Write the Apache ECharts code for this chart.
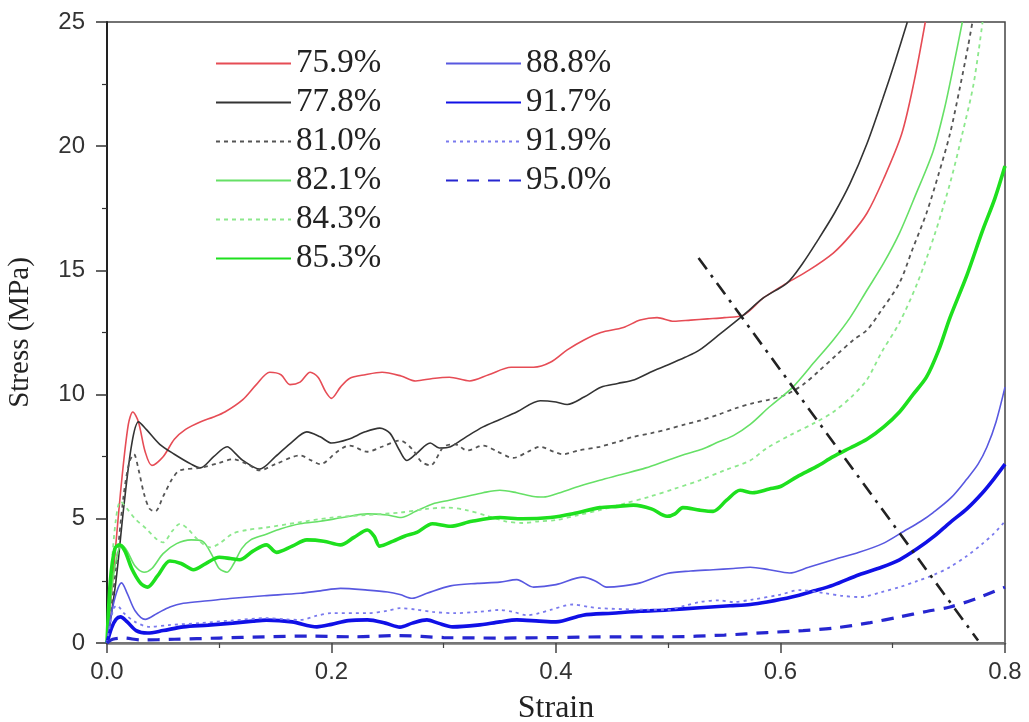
<!DOCTYPE html>
<html>
<head>
<meta charset="utf-8">
<script src="https://cdn.jsdelivr.net/npm/echarts@6/dist/echarts.min.js"></script>
<style>
  html, body { margin: 0; padding: 0; background: #fff; }
  #main { width: 1029px; height: 722px; }
</style>
</head>
<body>
<div id="main"></div>
<script>
// stress-strain curves, [strain, stress (MPa)]
var xTicks = [0, 0.2, 0.4, 0.6, 0.8];
var yTicks = [0, 5, 10, 15, 20, 25];

var s759 = [[0,0],[0.006,3],[0.013,6.5],[0.019,8.8],[0.023,9.3],[0.028,8.9],[0.034,7.7],[0.040,7.15],[0.050,7.5],[0.060,8.2],[0.070,8.6],[0.083,8.9],[0.095,9.1],[0.105,9.3],[0.121,9.8],[0.133,10.4],[0.145,10.9],[0.155,10.8],[0.163,10.4],[0.172,10.5],[0.181,10.9],[0.188,10.7],[0.195,10.1],[0.200,9.85],[0.208,10.3],[0.216,10.65],[0.230,10.8],[0.245,10.9],[0.262,10.75],[0.275,10.55],[0.290,10.65],[0.305,10.7],[0.323,10.55],[0.340,10.8],[0.360,11.1],[0.380,11.1],[0.395,11.3],[0.410,11.8],[0.425,12.2],[0.440,12.5],[0.460,12.7],[0.475,13.0],[0.490,13.1],[0.505,12.95],[0.520,13.0],[0.535,13.05],[0.550,13.1],[0.567,13.2],[0.585,13.9],[0.606,14.5],[0.625,15.0],[0.647,15.7],[0.662,16.4],[0.677,17.3],[0.692,18.7],[0.708,20.5],[0.719,22.6],[0.729,25]];
var s778 = [[0,0],[0.008,2.5],[0.015,5.5],[0.022,8.0],[0.028,8.9],[0.035,8.6],[0.047,8.0],[0.060,7.6],[0.075,7.2],[0.083,7.05],[0.095,7.5],[0.107,7.9],[0.115,7.6],[0.121,7.35],[0.136,7.0],[0.150,7.5],[0.165,8.1],[0.178,8.5],[0.190,8.3],[0.200,8.05],[0.215,8.2],[0.230,8.5],[0.243,8.65],[0.252,8.45],[0.260,7.8],[0.267,7.35],[0.275,7.6],[0.288,8.05],[0.296,7.85],[0.306,7.9],[0.320,8.3],[0.335,8.7],[0.350,9.0],[0.365,9.3],[0.386,9.75],[0.400,9.7],[0.410,9.6],[0.425,9.9],[0.440,10.3],[0.455,10.45],[0.470,10.6],[0.484,10.9],[0.500,11.2],[0.515,11.5],[0.528,11.8],[0.545,12.4],[0.567,13.2],[0.585,13.9],[0.606,14.5],[0.620,15.3],[0.633,16.2],[0.648,17.3],[0.662,18.5],[0.677,20.1],[0.691,21.9],[0.702,23.4],[0.713,25]];
var s810 = [[0,0],[0.008,3],[0.015,6.0],[0.020,7.3],[0.024,7.6],[0.028,7.0],[0.033,6.0],[0.038,5.4],[0.043,5.3],[0.050,5.9],[0.058,6.6],[0.065,6.95],[0.083,7.05],[0.100,7.25],[0.112,7.4],[0.125,7.2],[0.136,6.95],[0.150,7.2],[0.172,7.55],[0.182,7.35],[0.190,7.2],[0.205,7.7],[0.216,7.95],[0.232,7.7],[0.245,7.9],[0.261,8.15],[0.272,7.8],[0.280,7.3],[0.288,7.15],[0.300,7.9],[0.310,8.0],[0.321,7.75],[0.335,7.95],[0.348,7.7],[0.362,7.45],[0.375,7.7],[0.386,7.9],[0.398,7.7],[0.406,7.6],[0.420,7.75],[0.439,7.9],[0.455,8.1],[0.469,8.3],[0.485,8.45],[0.499,8.6],[0.515,8.8],[0.528,8.95],[0.545,9.2],[0.560,9.45],[0.575,9.65],[0.590,9.8],[0.605,10.0],[0.620,10.4],[0.633,10.9],[0.650,11.6],[0.665,12.2],[0.677,12.6],[0.690,13.4],[0.706,14.5],[0.718,15.9],[0.730,17.3],[0.741,18.9],[0.751,20.5],[0.760,22.4],[0.767,24.0],[0.771,25]];
var s821 = [[0,0],[0.005,2.5],[0.010,3.7],[0.013,3.95],[0.018,3.7],[0.025,3.1],[0.033,2.85],[0.040,3.0],[0.050,3.6],[0.062,4.0],[0.075,4.15],[0.085,4.1],[0.094,3.5],[0.100,3.0],[0.107,2.85],[0.113,3.2],[0.120,3.8],[0.128,4.15],[0.140,4.35],[0.155,4.6],[0.172,4.8],[0.190,4.9],[0.210,5.05],[0.232,5.2],[0.250,5.15],[0.262,5.05],[0.275,5.3],[0.290,5.6],[0.305,5.75],[0.320,5.9],[0.335,6.05],[0.350,6.15],[0.365,6.05],[0.380,5.9],[0.389,5.88],[0.400,6.0],[0.420,6.3],[0.439,6.55],[0.460,6.8],[0.480,7.05],[0.499,7.35],[0.515,7.6],[0.530,7.8],[0.545,8.1],[0.558,8.35],[0.573,8.8],[0.590,9.5],[0.611,10.3],[0.630,11.3],[0.647,12.2],[0.662,13.1],[0.677,14.2],[0.692,15.3],[0.706,16.5],[0.720,18.0],[0.736,19.8],[0.746,21.5],[0.754,23.2],[0.762,25]];
var s843 = [[0,0],[0.004,3],[0.008,5.0],[0.012,5.7],[0.018,5.4],[0.025,5.0],[0.035,4.6],[0.045,4.15],[0.050,4.05],[0.058,4.5],[0.065,4.8],[0.072,4.6],[0.080,4.2],[0.092,3.85],[0.100,4.0],[0.112,4.4],[0.125,4.55],[0.142,4.65],[0.170,4.85],[0.200,5.05],[0.230,5.15],[0.261,5.25],[0.285,5.4],[0.303,5.45],[0.320,5.35],[0.340,5.1],[0.355,4.9],[0.370,4.83],[0.385,4.9],[0.400,4.95],[0.420,5.15],[0.439,5.35],[0.460,5.6],[0.484,5.9],[0.505,6.2],[0.528,6.55],[0.550,6.95],[0.573,7.35],[0.588,7.85],[0.610,8.4],[0.630,8.85],[0.647,9.3],[0.663,9.9],[0.677,10.6],[0.690,11.7],[0.706,12.9],[0.722,14.5],[0.737,16.4],[0.751,18.5],[0.762,20.5],[0.772,22.5],[0.780,25]];
var s853 = [[0,0],[0.003,2.5],[0.007,3.8],[0.011,3.95],[0.016,3.7],[0.022,3.0],[0.030,2.4],[0.036,2.25],[0.045,2.7],[0.056,3.3],[0.066,3.2],[0.077,2.95],[0.088,3.2],[0.100,3.45],[0.110,3.4],[0.118,3.35],[0.130,3.7],[0.142,3.95],[0.151,3.65],[0.165,3.9],[0.178,4.15],[0.193,4.1],[0.208,3.95],[0.220,4.25],[0.232,4.55],[0.238,4.3],[0.243,3.9],[0.255,4.1],[0.265,4.3],[0.276,4.45],[0.290,4.8],[0.306,4.7],[0.325,4.9],[0.350,5.05],[0.370,5.0],[0.395,5.05],[0.415,5.2],[0.439,5.45],[0.455,5.5],[0.469,5.55],[0.485,5.4],[0.499,5.1],[0.506,5.2],[0.513,5.45],[0.528,5.35],[0.540,5.3],[0.552,5.75],[0.564,6.15],[0.575,6.05],[0.590,6.2],[0.600,6.3],[0.615,6.7],[0.632,7.1],[0.647,7.5],[0.662,7.85],[0.677,8.2],[0.692,8.7],[0.706,9.3],[0.718,10.0],[0.730,10.7],[0.741,11.8],[0.751,13.1],[0.766,14.8],[0.780,16.6],[0.791,17.9],[0.800,19.2]];
var s888 = [[0,0],[0.004,1.2],[0.009,2.1],[0.013,2.42],[0.018,2.0],[0.025,1.3],[0.034,0.95],[0.045,1.2],[0.056,1.45],[0.068,1.6],[0.090,1.7],[0.112,1.8],[0.140,1.9],[0.172,2.0],[0.190,2.1],[0.208,2.2],[0.232,2.13],[0.250,2.05],[0.261,1.95],[0.272,1.8],[0.285,2.0],[0.306,2.3],[0.330,2.4],[0.350,2.45],[0.365,2.55],[0.380,2.25],[0.400,2.35],[0.424,2.65],[0.435,2.5],[0.445,2.25],[0.460,2.3],[0.475,2.42],[0.499,2.8],[0.520,2.9],[0.540,2.95],[0.558,3.0],[0.573,3.05],[0.590,2.95],[0.608,2.82],[0.625,3.05],[0.647,3.35],[0.670,3.65],[0.691,4.0],[0.710,4.5],[0.725,4.9],[0.736,5.25],[0.752,5.85],[0.766,6.6],[0.776,7.2],[0.784,7.9],[0.792,8.9],[0.800,10.3]];
var s917 = [[0,0],[0.004,0.6],[0.008,0.95],[0.012,1.05],[0.018,0.85],[0.026,0.5],[0.036,0.4],[0.050,0.5],[0.068,0.65],[0.090,0.72],[0.112,0.8],[0.130,0.88],[0.142,0.92],[0.165,0.85],[0.187,0.65],[0.200,0.75],[0.215,0.9],[0.232,0.93],[0.248,0.8],[0.261,0.64],[0.272,0.8],[0.285,0.93],[0.295,0.8],[0.308,0.65],[0.330,0.72],[0.350,0.85],[0.365,0.93],[0.385,0.88],[0.400,0.85],[0.424,1.12],[0.450,1.2],[0.475,1.28],[0.499,1.33],[0.528,1.42],[0.555,1.5],[0.573,1.55],[0.588,1.65],[0.610,1.85],[0.630,2.1],[0.647,2.33],[0.670,2.75],[0.690,3.05],[0.706,3.35],[0.722,3.8],[0.737,4.3],[0.751,4.85],[0.766,5.4],[0.780,6.05],[0.790,6.6],[0.800,7.2]];
var s919 = [[0,0],[0.003,0.8],[0.006,1.4],[0.009,1.5],[0.015,1.2],[0.025,0.85],[0.038,0.65],[0.055,0.72],[0.083,0.8],[0.110,0.9],[0.142,1.0],[0.160,0.95],[0.172,0.93],[0.187,1.1],[0.200,1.2],[0.232,1.2],[0.250,1.3],[0.261,1.4],[0.275,1.35],[0.290,1.25],[0.310,1.2],[0.330,1.25],[0.350,1.33],[0.362,1.25],[0.374,1.12],[0.385,1.2],[0.395,1.33],[0.415,1.55],[0.430,1.45],[0.439,1.4],[0.470,1.35],[0.499,1.33],[0.515,1.5],[0.528,1.65],[0.545,1.72],[0.558,1.65],[0.575,1.75],[0.600,1.95],[0.617,2.13],[0.640,2.0],[0.655,1.9],[0.671,1.85],[0.690,2.05],[0.706,2.25],[0.722,2.5],[0.737,2.75],[0.751,3.06],[0.766,3.5],[0.780,4.0],[0.790,4.4],[0.800,4.9]];
var s950 = [[0,0],[0.005,0.15],[0.015,0.2],[0.03,0.12],[0.06,0.15],[0.1,0.2],[0.14,0.25],[0.18,0.28],[0.22,0.25],[0.26,0.3],[0.30,0.22],[0.35,0.2],[0.40,0.22],[0.45,0.25],[0.50,0.25],[0.55,0.32],[0.588,0.42],[0.62,0.5],[0.647,0.6],[0.68,0.82],[0.706,1.05],[0.73,1.27],[0.751,1.45],[0.775,1.8],[0.800,2.25]];
var trendLine = [[0.527, 15.5], [0.776, 0.1]];

var names1 = ['75.9%', '77.8%', '81.0%', '82.1%', '84.3%', '85.3%'];
var names2 = ['88.8%', '91.7%', '91.9%', '95.0%'];

var serif = "'Liberation Serif', 'Times New Roman', serif";
var sans = "'Liberation Sans Narrow', 'Liberation Sans', Arial, sans-serif";

function curve(name, data, color, width, type) {
    return {
        name: name,
        type: 'line',
        data: data,
        smooth: 0.3,
        showSymbol: false,
        symbol: 'none',
        color: color,
        lineStyle: { color: color, width: width, type: type || 'solid' },
        z: 3
    };
}

var legendText = { fontFamily: serif, fontSize: 33, color: '#222', lineHeight: 33 };

var option = {
    animation: false,
    backgroundColor: '#fff',
    grid: {
        left: 107, right: 24, top: 22, bottom: 79,
        outerBoundsMode: 'none',
        show: true, borderColor: '#444', borderWidth: 1.5
    },
    legend: [
        {
            data: names1, orient: 'vertical', left: 210, top: 42,
            itemWidth: 75, itemHeight: 14, itemGap: 6,
            itemStyle: { opacity: 0 },
            textStyle: legendText
        },
        {
            data: names2, orient: 'vertical', left: 440, top: 42,
            itemWidth: 75, itemHeight: 14, itemGap: 6,
            itemStyle: { opacity: 0 },
            textStyle: legendText
        }
    ],
    xAxis: {
        type: 'value', min: 0, max: 0.8, interval: 0.2,
        name: 'Strain', nameLocation: 'middle', nameGap: 50,
        nameTextStyle: { fontFamily: serif, fontSize: 32, color: '#222' },
        axisLine: { show: true, lineStyle: { color: '#777', width: 2.5 } },
        axisTick: { show: true, length: 10, lineStyle: { color: '#444', width: 1.5 } },
        minorTick: { show: true, splitNumber: 2, length: 5, lineStyle: { color: '#444', width: 1.2 } },
        axisLabel: {
            margin: 17, fontFamily: sans, fontSize: 24, color: '#333',
            formatter: function (v) { return v.toFixed(1); }
        },
        splitLine: { show: false }
    },
    yAxis: {
        type: 'value', min: 0, max: 25, interval: 5,
        name: 'Stress (MPa)', nameLocation: 'middle', nameGap: 72,
        nameTextStyle: { fontFamily: serif, fontSize: 29, color: '#222' },
        axisLine: { show: true, lineStyle: { color: '#222', width: 2 } },
        axisTick: { show: true, length: 11, lineStyle: { color: '#333', width: 1.5 } },
        minorTick: { show: true, splitNumber: 2, length: 5, lineStyle: { color: '#333', width: 1.2 } },
        axisLabel: { margin: 22, fontFamily: sans, fontSize: 24, color: '#333' },
        splitLine: { show: false }
    },
    series: [
        curve('75.9%', s759, '#e64c55', 1.6),
        curve('77.8%', s778, '#333333', 1.6),
        curve('81.0%', s810, '#555555', 1.8, [4, 4]),
        curve('82.1%', s821, '#66e066', 1.6),
        curve('84.3%', s843, '#8ce88c', 1.8, [4, 4]),
        curve('85.3%', s853, '#1ee01e', 3.6),
        curve('88.8%', s888, '#5858e0', 1.6),
        curve('91.7%', s917, '#1010e6', 3.6),
        curve('91.9%', s919, '#7a7aee', 1.8, [3, 4]),
        curve('95.0%', s950, '#2626d0', 3.2, [12, 9]),
        {
            name: 'trend',
            type: 'line',
            data: trendLine,
            showSymbol: false,
            symbol: 'none',
            lineStyle: { color: '#222', width: 2.6, type: [14, 7, 3, 7] },
            z: 4
        }
    ]
};

var chart = echarts.init(document.getElementById('main'));
chart.setOption(option);
window.addEventListener('resize', function () {
    chart.resize();
});
</script>
</body>
</html>
